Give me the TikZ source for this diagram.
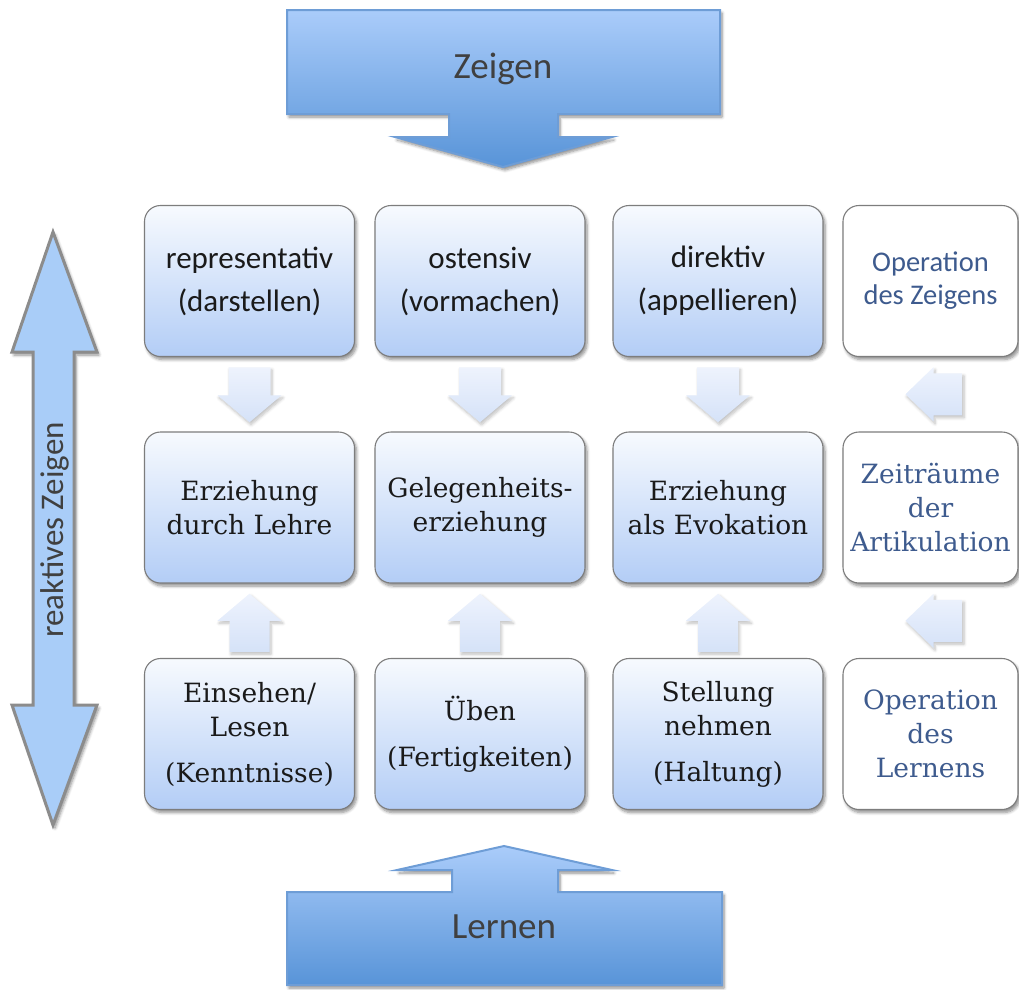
\documentclass[tikz,border=0pt]{standalone}
\usepackage{fontspec}
\setmainfont{DejaVu Serif}
\newfontfamily\calib{Carlito}
\usetikzlibrary{calc,shadows.blur}

\definecolor{celltop}{HTML}{F7FAFE}
\definecolor{cellbot}{HTML}{B3CDF6}
\definecolor{bigtop}{HTML}{AACCFA}
\definecolor{bigbot}{HTML}{5894D8}
\definecolor{bigline}{HTML}{6E9DD6}
\definecolor{sidefill}{HTML}{A9CDF8}
\definecolor{sideline}{HTML}{8C8C8C}
\definecolor{smalltop}{HTML}{EEF3FD}
\definecolor{smallbot}{HTML}{D5E2F8}
\definecolor{opblue}{HTML}{3E5B8E}
\definecolor{txt}{HTML}{1A1A1A}
\definecolor{bigtxt}{HTML}{404040}

\tikzset{
  softshadow/.style={blur shadow={shadow xshift=2pt, shadow yshift=-3pt,
      shadow blur radius=3pt, shadow blur steps=6, shadow opacity=45}},
  cellbox/.style={draw={rgb,255:red,125;green,125;blue,125}, line width=1.1pt,
      rounded corners=16pt, minimum width=210pt, minimum height=151pt,
      inner sep=0pt, align=center, top color=celltop, bottom color=cellbot,
      softshadow, text=txt},
  opbox/.style={cellbox, minimum width=175pt, top color=white, bottom color=white,
      text=opblue},
  sanstext/.style={font=\calib\fontsize{31}{43}\selectfont},
  sansop/.style={font=\calib\fontsize{28.5}{33}\selectfont},
  seriftext/.style={font=\fontsize{26.5}{34}\selectfont},
  smallarrow/.style={top color=smalltop, bottom color=smallbot,
      blur shadow={shadow xshift=1.5pt, shadow yshift=-2.5pt,
      shadow blur radius=3pt, shadow blur steps=6, shadow opacity=25}},
  bigarrow/.style={draw=bigline, line width=2pt, top color=bigtop,
      bottom color=bigbot, softshadow},
  bigtext/.style={font=\calib\fontsize{37}{42}\selectfont, text=bigtxt},
}

\begin{document}
\begin{tikzpicture}[x=1pt,y=-1pt]
\useasboundingbox (0,0) rectangle (1019,989);

% top block arrow
\path[bigarrow] (287,10) -- (720,10) -- (720,114) -- (558,114) -- (558,137)
  -- (612,137) -- (503,167) -- (395,137) -- (449,137) -- (449,114)
  -- (287,114) -- cycle;
\node[bigtext] (zeigen) at (503,69) {Zeigen};

% bottom block arrow
\path[bigarrow] (287,985) -- (722,985) -- (722,892) -- (558,892) -- (558,870)
  -- (612,870) -- (504,846) -- (397,870) -- (452,870) -- (452,892)
  -- (287,892) -- cycle;
\node[bigtext] (lernen) at (504,927) {Lernen};

% left double arrow
\path[draw=sideline, line width=3pt, fill=sidefill, softshadow]
  (53,232) -- (97,352) -- (74,352) -- (74,705) -- (97,705) -- (53,825)
  -- (12,705) -- (33,705) -- (33,352) -- (12,352) -- cycle;
\node[rotate=90, font=\calib\fontsize{33}{38}\selectfont, text=bigtxt]
  (reaktiv) at (55,530) {reaktives Zeigen};

% first row
\node[cellbox, sanstext] (r1c1) at (249.5,281) {representativ\\(darstellen)};
\node[cellbox, sanstext] (r1c2) at (480,281) {ostensiv\\(vormachen)};
\node[cellbox, sanstext] (r1c3) at (718,281) {direktiv\\(appellieren)};
\node[opbox, sansop] (r1c4) at (930.5,281) {Operation\\des Zeigens};

% second row
\node[cellbox, seriftext] (r2c1) at (249.5,507.5) {Erziehung\\durch Lehre};
\node[cellbox, seriftext] (r2c2) at (480,507.5) {Gelegenheits-\\erziehung};
\node[cellbox, seriftext] (r2c3) at (718,507.5) {Erziehung\\als Evokation};
\node[opbox, seriftext] (r2c4) at (930.5,507.5) {Zeiträume\\der\\Artikulation};

% third row
\node[cellbox, seriftext] (r3c1) at (249.5,734) {Einsehen/\\Lesen\\[12pt](Kenntnisse)};
\node[cellbox, seriftext] (r3c2) at (480,734) {Üben\\[12pt](Fertigkeiten)};
\node[cellbox, seriftext] (r3c3) at (718,734) {Stellung\\nehmen\\[12pt](Haltung)};
\node[opbox, seriftext] (r3c4) at (930.5,734) {Operation\\des\\Lernens};

% downward arrows from first to second row
\foreach \c in {1,2,3} {
  \coordinate (dn\c) at ($(r1c\c.south)!0.5!(r2c\c.north)$);
  \path[smallarrow, shift={(dn\c)}] (-21,-27) -- (21,-27) -- (21,1) -- (32,1)
    -- (0,28) -- (-32,1) -- (-21,1) -- cycle;
}
% upward arrows from third to second row
\foreach \c in {1,2,3} {
  \coordinate (up\c) at ($(r2c\c.south)!0.5!(r3c\c.north)$);
  \path[smallarrow, shift={(up\c)}] (-20,31) -- (20,31) -- (20,0) -- (32,0)
    -- (0,-27) -- (-32,0) -- (-20,0) -- cycle;
}
% leftward arrows in the operation column
\coordinate (lf1) at ($(r1c4.south)!0.5!(r2c4.north)$);
\coordinate (lf2) at ($(r2c4.south)!0.5!(r3c4.north)$);
\foreach \p in {lf1,lf2} {
  \path[smallarrow, shift={(\p)}] (32,-21) -- (32,21) -- (3,21) -- (3,27)
    -- (-25,0) -- (3,-27) -- (3,-21) -- cycle;
}
\end{tikzpicture}
\end{document}
